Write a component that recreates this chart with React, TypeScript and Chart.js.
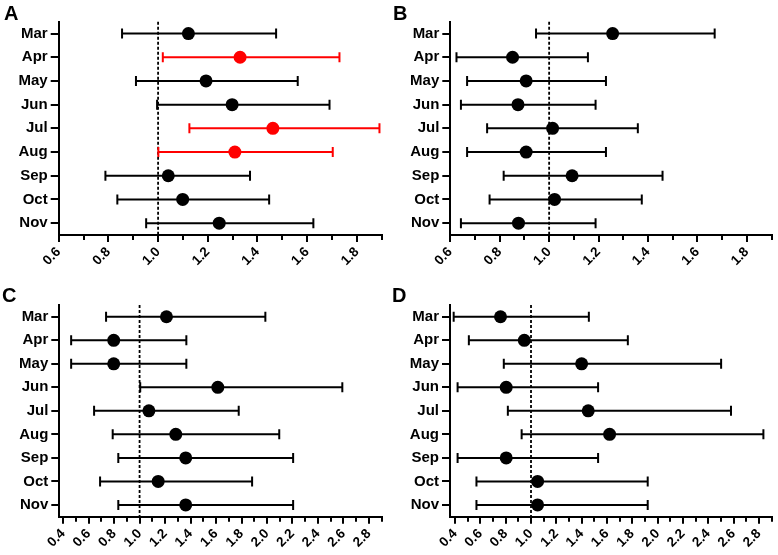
import React, { useEffect, useRef } from "react";
import { Chart, registerables } from "chart.js";
Chart.register(...registerables);

const months = ["Mar", "Apr", "May", "Jun", "Jul", "Aug", "Sep", "Oct", "Nov"];

const aEst = [1.122, 1.330, 1.193, 1.298, 1.462, 1.309, 1.041, 1.099, 1.246];
const aLo = [0.855, 1.019, 0.911, 0.996, 1.126, 1.001, 0.788, 0.836, 0.952];
const aHi = [1.475, 1.730, 1.562, 1.690, 1.891, 1.703, 1.370, 1.447, 1.625];
const aSignificant = [false, true, false, false, true, true, false, false, false];

const bEst = [1.257, 0.852, 0.907, 0.874, 1.014, 0.907, 1.093, 1.022, 0.876];
const bLo = [0.947, 0.625, 0.668, 0.643, 0.749, 0.668, 0.816, 0.759, 0.643];
const bHi = [1.670, 1.157, 1.230, 1.188, 1.359, 1.230, 1.459, 1.375, 1.188];

const cEst = [1.211, 0.797, 0.797, 1.614, 1.073, 1.284, 1.362, 1.146, 1.362];
const cLo = [0.737, 0.463, 0.463, 1.005, 0.643, 0.789, 0.833, 0.690, 0.833];
const cHi = [1.987, 1.367, 1.367, 2.591, 1.778, 2.096, 2.205, 1.883, 2.205];

const dEst = [0.759, 0.947, 1.400, 0.804, 1.452, 1.621, 0.804, 1.052, 1.052];
const dLo = [0.389, 0.509, 0.785, 0.420, 0.817, 0.926, 0.420, 0.569, 0.569];
const dHi = [1.457, 1.765, 2.502, 1.530, 2.580, 2.836, 1.530, 1.922, 1.922];

const majorTicksAB = [0.6, 0.8, 1.0, 1.2, 1.4, 1.6, 1.8];
const minorTicksAB = [0.7, 0.9, 1.1, 1.3, 1.5, 1.7, 1.9];
const majorTicksCD = [0.4, 0.6, 0.8, 1.0, 1.2, 1.4, 1.6, 1.8, 2.0, 2.2, 2.4, 2.6, 2.8];
const minorTicksCD = [0.5, 0.7, 0.9, 1.1, 1.3, 1.5, 1.7, 1.9, 2.1, 2.3, 2.5, 2.7, 2.9];
const referenceValue = 1.0;

const RED = "#ff0000";
const BLACK = "#000000";
const FONT = "'Liberation Sans', Arial, Helvetica, sans-serif";

const forestPlugin = {
  id: "forest",
  beforeDatasetsDraw(chart: any, _args: any, opts: any) {
    const { ctx, chartArea, scales } = chart;
    const xs = scales.x;
    const ys = scales.y;
    ctx.save();
    const rx = xs.getPixelForValue(opts.ref);
    ctx.strokeStyle = BLACK;
    ctx.lineWidth = 1.8;
    ctx.setLineDash([3, 2]);
    ctx.beginPath();
    ctx.moveTo(rx, chartArea.top);
    ctx.lineTo(rx, chartArea.bottom);
    ctx.stroke();
    ctx.setLineDash([]);
    ctx.lineWidth = 2;
    opts.lo.forEach((lo: number, i: number) => {
      const py = ys.getPixelForValue(i);
      const x0 = xs.getPixelForValue(lo);
      const x1 = xs.getPixelForValue(opts.hi[i]);
      ctx.strokeStyle = opts.colors[i];
      ctx.beginPath();
      ctx.moveTo(x0, py);
      ctx.lineTo(x1, py);
      ctx.moveTo(x0, py - 5);
      ctx.lineTo(x0, py + 5);
      ctx.moveTo(x1, py - 5);
      ctx.lineTo(x1, py + 5);
      ctx.stroke();
    });
    ctx.restore();
  },
  afterDraw(chart: any, _args: any, opts: any) {
    const { ctx, chartArea, scales } = chart;
    const xs = scales.x;
    ctx.save();
    ctx.strokeStyle = BLACK;
    ctx.lineWidth = 2;
    ctx.beginPath();
    opts.minor.forEach((v: number) => {
      const px = Math.round(xs.getPixelForValue(v));
      ctx.moveTo(px, chartArea.bottom);
      ctx.lineTo(px, chartArea.bottom + 5);
    });
    ctx.stroke();
    ctx.restore();
  },
};

type PanelProps = {
  left: number;
  top: number;
  width: number;
  height: number;
  plotLeft: number;
  plotRight: number;
  plotTop: number;
  plotBottom: number;
  min: number;
  max: number;
  est: number[];
  lo: number[];
  hi: number[];
  colors: string[];
  majors: number[];
  minors: number[];
};

function Panel(p: PanelProps) {
  const ref = useRef<HTMLCanvasElement | null>(null);
  useEffect(() => {
    if (!ref.current) return;
    const chart = new Chart(ref.current, {
      type: "scatter",
      data: {
        labels: months,
        datasets: [
          {
            data: p.est.map((v, i) => ({ x: v, y: months[i] })) as any,
            backgroundColor: p.colors,
            borderColor: p.colors,
            borderWidth: 0,
            pointRadius: 6.5,
            pointHoverRadius: 6.5,
          },
        ],
      },
      options: {
        responsive: false,
        animation: false,
        events: [],
        layout: {
          padding: {
            left: 0,
            top: p.plotTop - p.top,
            right: p.left + p.width - p.plotRight,
            bottom: 0,
          },
        },
        plugins: {
          legend: { display: false },
          tooltip: { enabled: false },
          forest: {
            ref: referenceValue,
            lo: p.lo,
            hi: p.hi,
            colors: p.colors,
            minor: p.minors,
          },
        } as any,
        scales: {
          x: {
            type: "linear",
            min: p.min,
            max: p.max,
            bounds: "data",
            afterBuildTicks: (s: any) => {
              s.ticks = p.majors.map((v) => ({ value: v }));
            },
            afterFit: (s: any) => {
              s.height = p.top + p.height - p.plotBottom;
            },
            ticks: {
              autoSkip: false,
              maxRotation: 45,
              minRotation: 45,
              padding: 5,
              color: BLACK,
              font: { family: FONT, weight: "bold", size: 13.5, lineHeight: 0.6 },
              callback: (v: any) => Number(v).toFixed(1),
            },
            grid: {
              drawOnChartArea: false,
              drawTicks: true,
              tickLength: 7,
              lineWidth: 2,
              color: BLACK,
            },
            border: { display: true, color: BLACK, width: 2 },
          },
          y: {
            type: "category",
            labels: months,
            offset: true,
            afterFit: (s: any) => {
              s.width = p.plotLeft - p.left;
            },
            ticks: {
              padding: 3,
              color: BLACK,
              font: { family: FONT, weight: "bold", size: 15 },
            },
            grid: {
              offset: false,
              drawOnChartArea: false,
              drawTicks: true,
              tickLength: 8,
              lineWidth: 2,
              color: BLACK,
            },
            border: { display: true, color: BLACK, width: 2 },
          },
        } as any,
      },
      plugins: [forestPlugin],
    });
    return () => chart.destroy();
  }, []);
  return (
    <canvas
      ref={ref}
      width={p.width}
      height={p.height}
      style={{ position: "absolute", left: p.left, top: p.top, width: p.width, height: p.height }}
    />
  );
}

const letterStyle = (left: number, top: number): React.CSSProperties => ({
  position: "absolute",
  left,
  top,
  fontFamily: FONT,
  fontWeight: "bold",
  fontSize: 20,
  lineHeight: "20px",
  color: BLACK,
});

export default function App() {
  const black = months.map(() => BLACK);
  const aColors = aSignificant.map((s) => (s ? RED : BLACK));
  return (
    <div style={{ position: "fixed", left: 0, top: 0, width: 778, height: 555, background: "#fff", overflow: "hidden" }}>
      <Panel left={0} top={0} width={389} height={277} plotLeft={58.7} plotRight={381.7} plotTop={21.7} plotBottom={235}
        min={0.6} max={1.9} est={aEst} lo={aLo} hi={aHi} colors={aColors} majors={majorTicksAB} minors={minorTicksAB} />
      <Panel left={389} top={0} width={389} height={277} plotLeft={450.3} plotRight={772.3} plotTop={21.7} plotBottom={235}
        min={0.6} max={1.9} est={bEst} lo={bLo} hi={bHi} colors={black} majors={majorTicksAB} minors={minorTicksAB} />
      <Panel left={0} top={277} width={389} height={278} plotLeft={59.3} plotRight={381.7} plotTop={305} plotBottom={516.7}
        min={0.37} max={2.9} est={cEst} lo={cLo} hi={cHi} colors={black} majors={majorTicksCD} minors={minorTicksCD} />
      <Panel left={389} top={277} width={389} height={278} plotLeft={450} plotRight={772.7} plotTop={305} plotBottom={516.7}
        min={0.36} max={2.9} est={dEst} lo={dLo} hi={dHi} colors={black} majors={majorTicksCD} minors={minorTicksCD} />
      <div style={letterStyle(4, 3)}>A</div>
      <div style={letterStyle(393, 3)}>B</div>
      <div style={letterStyle(2, 285)}>C</div>
      <div style={letterStyle(392, 285)}>D</div>
    </div>
  );
}
